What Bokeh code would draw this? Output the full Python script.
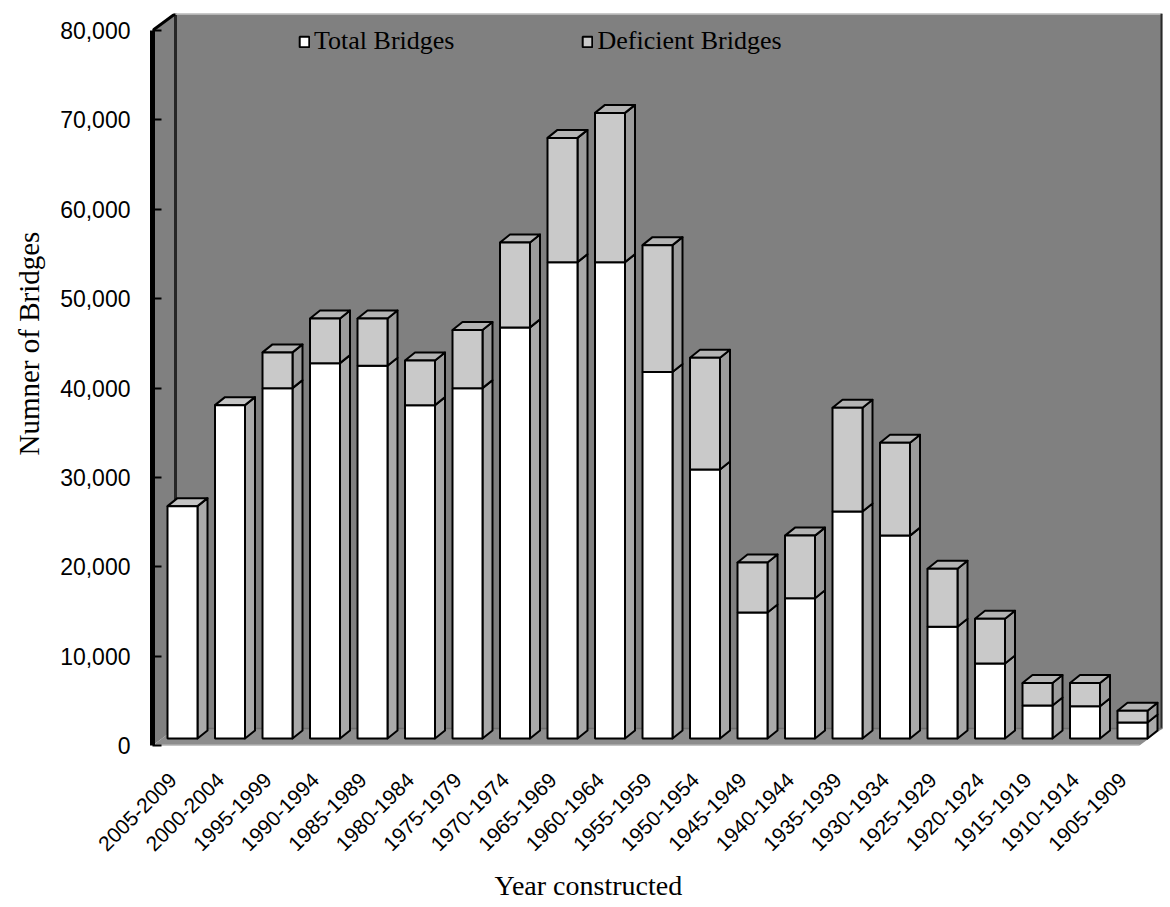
from math import pi

from bokeh.plotting import figure
from bokeh.models import (Range1d, FixedTicker, NumeralTickFormatter, Legend,
                          LegendItem, Title, ColumnDataSource)
from bokeh.embed import file_html
from bokeh.resources import INLINE

# Bridges in the inventory by period of construction
periods = ["2005-2009", "2000-2004", "1995-1999", "1990-1994", "1985-1989",
           "1980-1984", "1975-1979", "1970-1974", "1965-1969", "1960-1964",
           "1955-1959", "1950-1954", "1945-1949", "1940-1944", "1935-1939",
           "1930-1934", "1925-1929", "1920-1924", "1915-1919", "1910-1914",
           "1905-1909"]
total_bridges = [26000, 37300, 39200, 42000, 41700, 37300, 39200, 46000, 53300,
                 53300, 41000, 30100, 14100, 15700, 25400, 22700, 12500, 8400,
                 3700, 3600, 1800]
deficient_bridges = [0, 0, 4000, 5000, 5300, 5000, 6500, 9500, 13900, 16700,
                     14200, 12500, 5600, 7000, 11600, 10400, 6500, 5000, 2500,
                     2600, 1300]
y_ticks = [0, 10000, 20000, 30000, 40000, 50000, 60000, 70000, 80000]

# --- pseudo-3D projection (pixel offsets converted into data units) ---
PX_PER_CAT = 47.5
PX_PER_VAL = 715.0 / 80000.0


def ux(px):
    return px / PX_PER_CAT


def uy(px):
    return px / PX_PER_VAL


WALL_DX, WALL_DY = ux(23), uy(17)      # full depth of the box
FRONT_DX, FRONT_DY = ux(9.5), uy(7)    # bars sit part-way into the box
SIDE_DX, SIDE_DY = ux(10), uy(8)       # bar depth
HALF_W = ux(15)
X0 = ux(152 - 172.5)
X1 = ux(1139 - 172.5)
YMAX = 80000

WALL = "#808080"
FLOOR = "#8d8d8d"
WHITE_FRONT, WHITE_SIDE, WHITE_TOP = "#ffffff", "#a9a9a9", "#c4c4c4"
DEF_FRONT, DEF_SIDE, DEF_TOP = "#c9c9c9", "#9c9c9c", "#b3b3b3"

p = figure(width=1170, height=907, output_backend="svg", toolbar_location=None,
           x_range=Range1d(X0, X1 + WALL_DX),
           y_range=Range1d(0, YMAX + WALL_DY),
           min_border_left=152, min_border_right=8, min_border_top=13,
           min_border_bottom=162,
           background_fill_color="white", border_fill_color="white")
p.outline_line_color = None
p.xgrid.visible = False
p.ygrid.visible = False

# back wall, side wall, floor
p.patch([X0 + WALL_DX, X1 + WALL_DX, X1 + WALL_DX, X0 + WALL_DX],
        [WALL_DY, WALL_DY, YMAX + WALL_DY, YMAX + WALL_DY],
        fill_color=WALL, line_color=None)
p.patch([X0, X0 + WALL_DX, X0 + WALL_DX, X0],
        [0, WALL_DY, YMAX + WALL_DY, YMAX],
        fill_color=WALL, line_color=None)
p.patch([X0, X1, X1 + WALL_DX, X0 + WALL_DX],
        [0, 0, WALL_DY, WALL_DY],
        fill_color=FLOOR, line_color=None)
p.line([X0 + WALL_DX, X0 + WALL_DX], [WALL_DY, YMAX + WALL_DY],
       line_color="#262626", line_width=3)
p.line([X0, X0 + WALL_DX], [YMAX, YMAX + WALL_DY],
       line_color="black", line_width=3)
p.line([X0 + WALL_DX, X1 + WALL_DX], [YMAX + WALL_DY, YMAX + WALL_DY],
       line_color="#b4b4b4", line_width=3)
p.line([X1 + WALL_DX, X1 + WALL_DX], [WALL_DY, YMAX + WALL_DY],
       line_color="#2a2a2a", line_width=4)
p.line([X0 + WALL_DX, X1 + WALL_DX], [WALL_DY, WALL_DY],
       line_color="#6e6e6e", line_width=1.5)
p.line([X0, X1], [0, 0], line_color="#a6a6a6", line_width=3)

# stacked 3D columns
fronts = {"w": dict(left=[], right=[], bottom=[], top=[]),
          "d": dict(left=[], right=[], bottom=[], top=[])}
sides = dict(xs=[], ys=[], color=[])
tops = dict(xs=[], ys=[], color=[])

for i, (tb, db) in enumerate(zip(total_bridges, deficient_bridges)):
    xl = i + FRONT_DX - HALF_W
    xr = i + FRONT_DX + HALF_W
    segs = [("w", 0, tb, WHITE_SIDE, WHITE_TOP)]
    if db > 0:
        segs.append(("d", tb, tb + db, DEF_SIDE, DEF_TOP))
    for key, b, t, side_c, top_c in segs:
        yb, yt = b + FRONT_DY, t + FRONT_DY
        f = fronts[key]
        f["left"].append(xl)
        f["right"].append(xr)
        f["bottom"].append(yb)
        f["top"].append(yt)
        sides["xs"].append([xr, xr + SIDE_DX, xr + SIDE_DX, xr])
        sides["ys"].append([yb, yb + SIDE_DY, yt + SIDE_DY, yt])
        sides["color"].append(side_c)
    key, b, t, side_c, top_c = segs[-1]
    yt = t + FRONT_DY
    tops["xs"].append([xl, xr, xr + SIDE_DX, xl + SIDE_DX])
    tops["ys"].append([yt, yt, yt + SIDE_DY, yt + SIDE_DY])
    tops["color"].append(top_c)

p.patches("xs", "ys", source=ColumnDataSource(sides), fill_color="color",
          line_color="black", line_width=2, line_join="round")
p.patches("xs", "ys", source=ColumnDataSource(tops), fill_color="color",
          line_color="black", line_width=2, line_join="round")
r_total = p.quad(source=ColumnDataSource(fronts["w"]), left="left",
                 right="right", bottom="bottom", top="top",
                 fill_color=WHITE_FRONT, line_color="black", line_width=2)
r_def = p.quad(source=ColumnDataSource(fronts["d"]), left="left",
               right="right", bottom="bottom", top="top",
               fill_color=DEF_FRONT, line_color="black", line_width=2)

# axes
yax = p.yaxis[0]
yax.ticker = FixedTicker(ticks=y_ticks)
yax.formatter = NumeralTickFormatter(format="0,0")
yax.bounds = (0, YMAX)
yax.axis_line_color = "black"
yax.axis_line_width = 5
yax.major_tick_in = 9
yax.major_tick_out = 0
yax.major_tick_line_width = 2
yax.minor_tick_line_color = None
yax.major_label_standoff = 22
yax.major_label_text_font = "Liberation Sans"
yax.major_label_text_font_size = "23px"
yax.major_label_text_color = "black"

xax = p.xaxis[0]
xax.ticker = FixedTicker(ticks=list(range(len(periods))))
xax.major_label_overrides = {i: lab for i, lab in enumerate(periods)}
xax.major_label_orientation = pi / 4
xax.axis_line_color = None
xax.major_tick_line_color = None
xax.minor_tick_line_color = None
xax.major_label_standoff = 25
xax.major_label_text_font = "Liberation Sans"
xax.major_label_text_font_size = "21px"
xax.major_label_text_color = "black"

# axis titles as side panels, shifted along the frame with offset
p.add_layout(Title(text="Numner of Bridges", align="left", offset=290,
                   vertical_align="top", standoff=22,
                   text_font="Liberation Serif", text_font_size="29px",
                   text_font_style="normal", text_color="black"), "left")
p.add_layout(Title(text="Year constructed", align="left", offset=342,
                   standoff=14, text_font="Liberation Serif",
                   text_font_size="28px", text_font_style="normal",
                   text_color="black"), "below")

legend = Legend(items=[LegendItem(label="Total Bridges", renderers=[r_total]),
                       LegendItem(label="Deficient Bridges", renderers=[r_def])],
                orientation="horizontal", location=(146, 689), spacing=127,
                padding=0, margin=0, glyph_width=12, glyph_height=13,
                label_standoff=4, background_fill_alpha=0,
                border_line_color=None, label_text_font="Liberation Serif",
                label_text_font_size="26px", label_text_color="black")
p.add_layout(legend)

open("out.html", "w").write(file_html(p, INLINE))
